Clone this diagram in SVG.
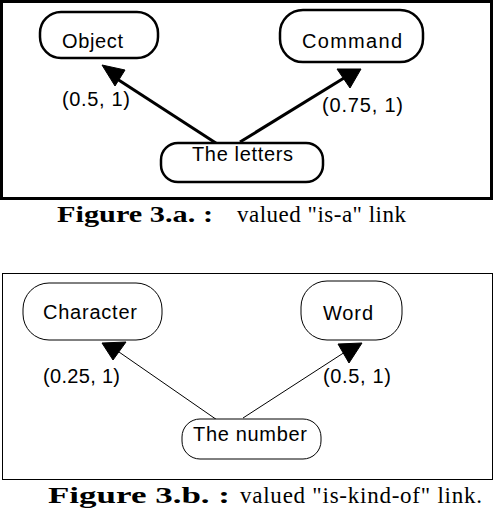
<svg xmlns="http://www.w3.org/2000/svg" width="494" height="512" viewBox="0 0 494 512">
<style>
.nodeA{fill:#fff;stroke:#000;stroke-width:2.5}
.nodeB{fill:#fff;stroke:#000;stroke-width:1}
.lbl{font-family:"Liberation Sans",Arial,sans-serif;font-size:20px;fill:#000}
.cap{font-family:"Liberation Serif","Times New Roman",serif;font-size:23px;fill:#000}
.capb{font-weight:bold}
.head{fill:#000;stroke:#000;stroke-width:1;stroke-linejoin:miter}
</style>
<rect width="494" height="512" fill="#fff"/>
<!-- Figure 3.a -->
<rect id="frameA" x="1.5" y="1.5" width="490" height="197" fill="none" stroke="#000" stroke-width="3"/>
<g id="connectorsA">
<line x1="222" y1="147" x2="114" y2="77" stroke="#000" stroke-width="3"/>
<line x1="240" y1="142" x2="344" y2="78" stroke="#000" stroke-width="3"/>
<polygon class="head" points="102,65 125,70 115,86"/>
<polygon class="head" points="337,69 361,69 350,88"/>
</g>
<g id="node-object">
<rect class="nodeA" x="40" y="12" width="118" height="46" rx="21"/>
<text class="lbl" x="62" y="48" textLength="61" lengthAdjust="spacing">Object</text>
</g>
<g id="node-command">
<rect class="nodeA" x="280" y="10" width="143" height="52" rx="23"/>
<text class="lbl" x="302" y="48" textLength="100" lengthAdjust="spacing">Command</text>
</g>
<g id="node-letters">
<rect class="nodeA" x="161" y="143" width="162" height="39" rx="17"/>
<text class="lbl" x="192" y="161" textLength="101" lengthAdjust="spacing">The letters</text>
</g>
<text class="lbl" x="62" y="106" textLength="68" lengthAdjust="spacing">(0.5, 1)</text>
<text class="lbl" x="322" y="112" textLength="81" lengthAdjust="spacing">(0.75, 1)</text>
<text class="cap capb" x="57" y="222" font-size="26" textLength="156" lengthAdjust="spacingAndGlyphs">Figure 3.a. :</text>
<text class="cap" x="237" y="222" textLength="169" lengthAdjust="spacing">valued "is-a" link</text>
<!-- Figure 3.b -->
<rect id="frameB" x="2.5" y="273.5" width="490" height="206" fill="none" stroke="#000" stroke-width="1"/>
<g id="connectorsB">
<line x1="220" y1="422" x2="119" y2="352" stroke="#000" stroke-width="1"/>
<line x1="243" y1="418" x2="345" y2="352" stroke="#000" stroke-width="1"/>
<polygon class="head" points="102,343 126,342 113,360"/>
<polygon class="head" points="338,344 362,343 349,363"/>
</g>
<g id="node-character">
<rect class="nodeB" x="23" y="283" width="139" height="57" rx="26"/>
<text class="lbl" x="43" y="319" textLength="94" lengthAdjust="spacing">Character</text>
</g>
<g id="node-word">
<rect class="nodeB" x="301" y="281" width="101" height="59" rx="26"/>
<text class="lbl" x="323" y="320" textLength="50" lengthAdjust="spacing">Word</text>
</g>
<g id="node-number">
<rect class="nodeB" x="182" y="419" width="139" height="40" rx="18"/>
<text class="lbl" x="193" y="441" font-size="21" textLength="114" lengthAdjust="spacing">The number</text>
</g>
<text class="lbl" x="43" y="383" textLength="77" lengthAdjust="spacing">(0.25, 1)</text>
<text class="lbl" x="323" y="383" textLength="68" lengthAdjust="spacing">(0.5, 1)</text>
<text class="cap capb" x="48" y="503" font-size="27" textLength="182" lengthAdjust="spacingAndGlyphs">Figure 3.b. :</text>
<text class="cap" x="240" y="503" font-size="24" textLength="242" lengthAdjust="spacing">valued "is-kind-of" link.</text>
</svg>
